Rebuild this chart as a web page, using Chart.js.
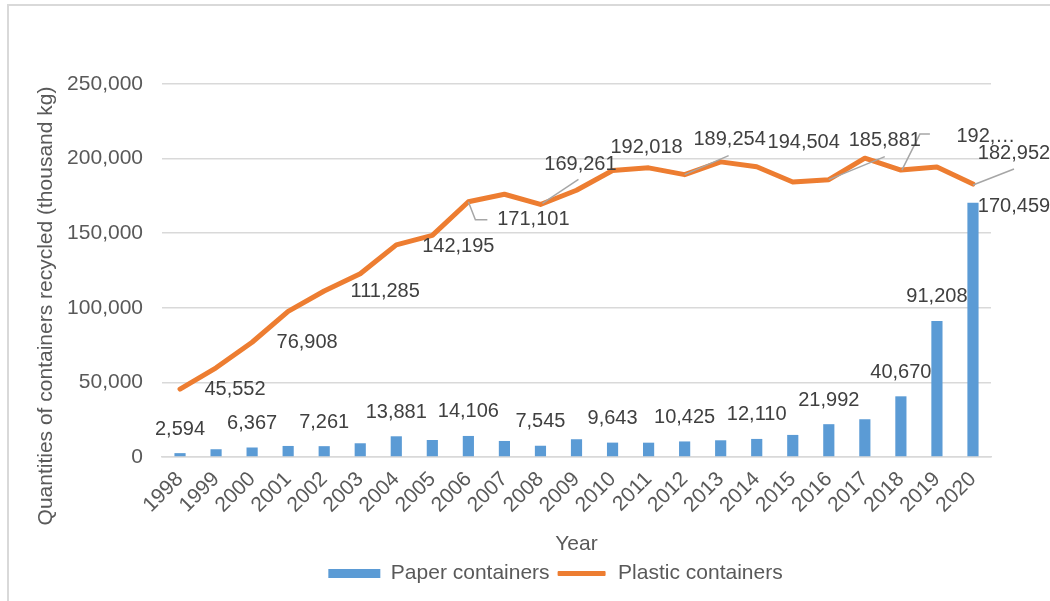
<!DOCTYPE html>
<html>
<head>
<meta charset="utf-8">
<script src="https://cdn.jsdelivr.net/npm/chart.js@4.4.0/dist/chart.umd.min.js"></script>
<style>
  html, body { margin: 0; padding: 0; background: #fff; }
  #frame { position: absolute; left: 7px; top: 4px; width: 1043px; height: 597px; border-top: 2px solid #d9d9d9; border-left: 2px solid #d9d9d9; }
  #myChart { position: absolute; left: 0; top: 0; }
</style>
</head>
<body>
<div id="frame"></div>
<canvas id="myChart" width="1050" height="601"></canvas>
<script>
// data (thousand kg)
const years = ['1998', '1999', '2000', '2001', '2002', '2003', '2004', '2005', '2006', '2007', '2008', '2009', '2010', '2011', '2012', '2013', '2014', '2015', '2016', '2017', '2018', '2019', '2020'];
const paper = [2594, 5200, 6367, 7400, 7261, 9200, 13881, 11400, 14106, 10750, 7545, 11900, 9643, 9600, 10425, 11200, 12110, 14800, 21992, 25300, 40670, 91208, 170459];
const plastic = [45552, 59800, 76908, 97600, 111285, 122800, 142195, 148500, 171101, 176100, 169261, 178800, 192018, 193800, 189254, 197800, 194504, 184300, 185881, 200300, 192300, 194400, 182952];
const yTicks = [0, 50000, 100000, 150000, 200000, 250000];

// which points carry a value label
const paperLabelled = [0, 2, 4, 6, 8, 10, 12, 14, 16, 18, 20, 21, 22];
const plasticLabelled = [0, 2, 4, 6, 8, 10, 12, 14, 16, 18, 20, 22];
const plasticTruncated = [20];

// label placement relative to the mark (pixels)
const paperOffset = { 22: [41, 4] };
const plasticOffset = {
  0: [55, 0], 2: [55, 0], 4: [61, 1], 6: [62, 2], 8: [65, 18], 10: [40, -40],
  12: [34, -23], 14: [45, -35], 16: [47, -24], 18: [56, -39], 20: [85, -34], 22: [41, -31]
};
const plasticLeader = {
  8: [[0, 0], [7, 18], [19, 18]],
  10: [[2, -1], [38, -25]],
  14: [[0, 0], [44, -19]],
  18: [[0, 0], [56, -23]],
  20: [[1, 0], [19, -36], [29, -36]],
  22: [[0, 1], [41, -15]]
};

const FONT = "'Liberation Sans', Arial, sans-serif";
const fmt = v => v.toLocaleString('en-US');

const valueLabels = {
  id: 'valueLabels',
  afterDatasetsDraw(chart) {
    const c = chart.ctx;
    const bars = chart.getDatasetMeta(0).data;
    const pts = chart.getDatasetMeta(1).data;
    c.save();
    c.strokeStyle = '#a6a6a6';
    c.lineWidth = 1.5;
    Object.keys(plasticLeader).forEach(k => {
      const p = pts[k];
      const path = plasticLeader[k];
      c.beginPath();
      path.forEach((q, j) => {
        if (j === 0) c.moveTo(p.x + q[0], p.y + q[1]);
        else c.lineTo(p.x + q[0], p.y + q[1]);
      });
      c.stroke();
    });
    c.font = '20px ' + FONT;
    c.fillStyle = '#404040';
    c.textAlign = 'center';
    c.textBaseline = 'middle';
    paperLabelled.forEach(i => {
      const b = bars[i];
      const off = paperOffset[i] || [0, -24];
      c.fillText(fmt(paper[i]), b.x + off[0], b.y + off[1]);
    });
    plasticLabelled.forEach(i => {
      const p = pts[i];
      const off = plasticOffset[i];
      let txt = fmt(plastic[i]);
      if (plasticTruncated.includes(i)) txt = txt.slice(0, 4) + '\u2026';
      c.fillText(txt, p.x + off[0], p.y + off[1]);
    });
    c.restore();
  }
};

const yTitle = {
  id: 'yTitle',
  afterDraw(chart) {
    const c = chart.ctx;
    c.save();
    c.translate(46, 306);
    c.rotate(-Math.PI / 2);
    c.font = '21px ' + FONT;
    c.fillStyle = '#595959';
    c.textAlign = 'center';
    c.textBaseline = 'middle';
    c.fillText('Quantities of containers recycled (thousand kg)', 0, 0);
    c.restore();
  }
};

// the legend sits a little right of the canvas centre
const legendShift = {
  id: 'legendShift',
  afterLayout(chart) {
    chart.legend.left += 30;
    chart.legend.right += 30;
  }
};

const ctx = document.getElementById('myChart');

new Chart(ctx, {
  type: 'bar',
  data: {
    labels: years,
    datasets: [{
      label: 'Paper containers',
      data: paper,
      backgroundColor: '#5B9BD5',
      barPercentage: 0.31,
      categoryPercentage: 1
    }, {
      type: 'line',
      label: 'Plastic containers',
      data: plastic,
      borderColor: '#ED7D31',
      backgroundColor: '#ED7D31',
      borderWidth: 5,
      pointRadius: 0,
      tension: 0,
      borderJoinStyle: 'round',
      borderCapStyle: 'round'
    }]
  },
  options: {
    responsive: false,
    devicePixelRatio: 1,
    animation: false,
    layout: { padding: { left: 60, right: 59, top: 84, bottom: 7 } },
    plugins: {
      tooltip: { enabled: false },
      legend: {
        position: 'bottom',
        labels: {
          boxWidth: 52,
          boxHeight: 9,
          padding: 6,
          useBorderRadius: true,
          font: { size: 21, family: FONT },
          color: '#595959',
          generateLabels: () => [
            { text: 'Paper containers', fillStyle: '#5B9BD5', strokeStyle: '#5B9BD5', lineWidth: 0, borderRadius: 0, datasetIndex: 0, fontColor: '#595959' },
            { text: 'Plastic containers', fillStyle: '#ED7D31', strokeStyle: '#ffffff', lineWidth: 4, borderRadius: 3, datasetIndex: 1, fontColor: '#595959' }
          ]
        }
      }
    },
    scales: {
      x: {
        grid: { display: false },
        border: { color: '#d9d9d9', width: 1.5 },
        ticks: { autoSkip: false, minRotation: 45, maxRotation: 45, color: '#595959', font: { size: 21, family: FONT }, padding: 2 },
        title: { display: true, text: 'Year', color: '#595959', font: { size: 21, family: FONT }, padding: 0 },
        afterFit: s => { s.height = 100; }
      },
      y: {
        min: 0,
        max: 250000,
        afterBuildTicks: s => { s.ticks = yTicks.map(v => ({ value: v })); },
        ticks: { color: '#595959', font: { size: 21, family: FONT }, padding: 19, callback: v => fmt(v) },
        grid: { color: '#d9d9d9', lineWidth: 1.5, drawTicks: false },
        border: { display: false },
        afterFit: s => { s.width = 102; }
      }
    }
  },
  plugins: [valueLabels, yTitle, legendShift]
});
</script>
</body>
</html>
